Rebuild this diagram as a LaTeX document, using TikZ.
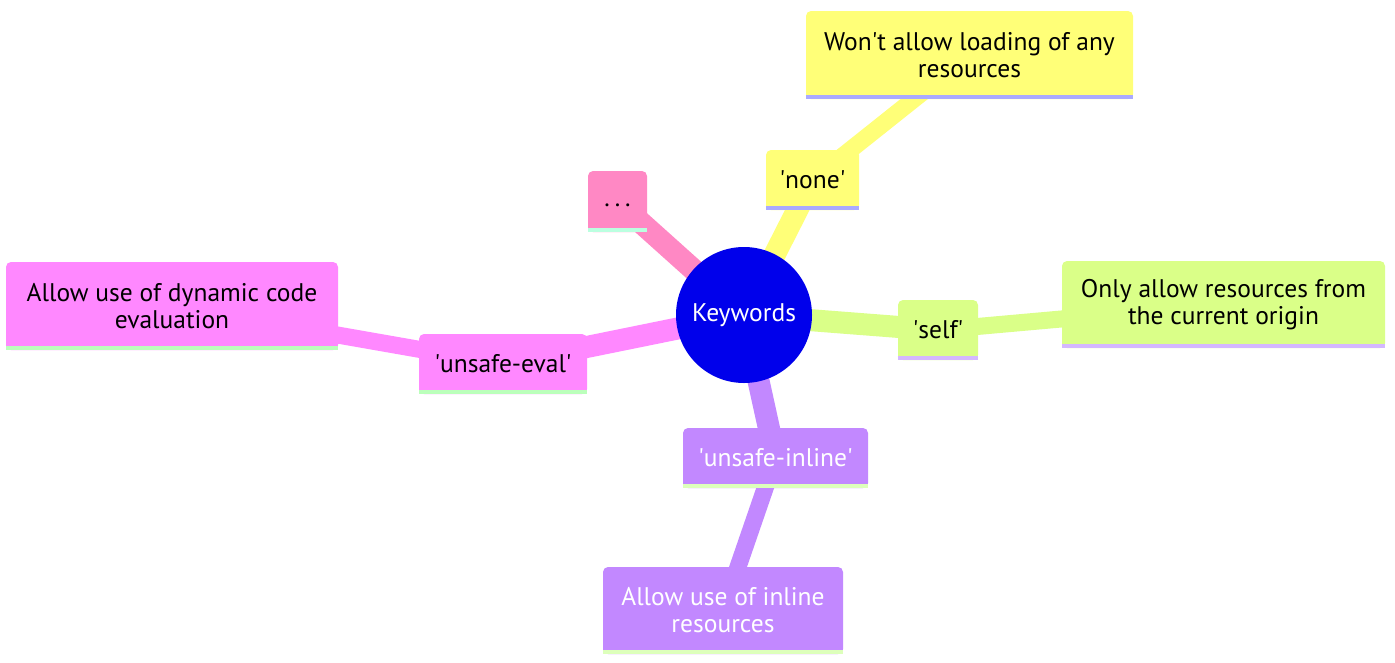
\documentclass[tikz,border=0pt]{standalone}
\usepackage{fontspec}
\setmainfont{PT Sans}
\usetikzlibrary{backgrounds}
\definecolor{cblue}{HTML}{0000EB}
\definecolor{cyellow}{HTML}{FFFF78}
\definecolor{cyline}{HTML}{AAAAFF}
\definecolor{cgreen}{HTML}{DAFF88}
\definecolor{cgline}{HTML}{D4B8FF}
\definecolor{cpink}{HTML}{FF88C4}
\definecolor{cpline}{HTML}{BBFFE0}
\definecolor{cmag}{HTML}{FF88FF}
\definecolor{cmline}{HTML}{BBFFBB}
\definecolor{cpurple}{HTML}{C288FF}
\definecolor{culine}{HTML}{DDFFBB}
\newcommand{\q}{\textquotesingle}
\tikzset{
  x=1pt, y=-1pt,
  tab/.style={rounded corners=5pt, inner sep=0pt, align=center, font=\fontsize{25.5}{27}\selectfont},
  rootnode/.style={circle, fill=cblue, minimum size=136pt, inner sep=0pt, text=white, font=\fontsize{25.5}{27}\selectfont},
  edgeA/.style={line width=22pt},
  edgeB/.style={line width=17pt},
}
% \tabbox{name}{cx}{cy}{w}{h}{fill}{line}{textcolor}{text}
\newcommand{\tabbox}[9]{%
  \node[tab, fill=#6, text=#8, minimum width=#4pt, minimum height=#5pt] (#1) at (#2,#3) {#9};
  \fill[#6] ([yshift=12pt]#1.south west) rectangle (#1.south east);
  \fill[#7] ([yshift=4pt]#1.south west) rectangle (#1.south east);
}
\begin{document}
\begin{tikzpicture}
\useasboundingbox (0,0) rectangle (1395,662);
\node[rootnode] (root) at (744,315) {Keywords};
\tabbox{none}{812.5}{180}{93}{60}{cyellow}{cyline}{black}{\q none\q}
\tabbox{wont}{969.5}{55}{327}{88}{cyellow}{cyline}{black}{Won\q t allow loading of any\\resources}
\tabbox{dots}{617.5}{201.5}{59}{61}{cpink}{cpline}{black}{\strut.\hspace{5pt}.\hspace{5pt}.}
\tabbox{self}{938}{330}{80}{60}{cgreen}{cgline}{black}{\q self\q}
\tabbox{only}{1223.5}{304.5}{323}{87}{cgreen}{cgline}{black}{Only allow resources from\\the current origin}
\tabbox{ueval}{503}{364}{168}{60}{cmag}{cmline}{black}{\q unsafe-eval\q}
\tabbox{dyn}{172}{306}{332}{88}{cmag}{cmline}{black}{Allow use of dynamic code\\evaluation}
\tabbox{uinline}{775.5}{458}{185}{60}{cpurple}{culine}{white}{\q unsafe-inline\q}
\tabbox{inl}{723}{610.5}{240}{87}{cpurple}{culine}{white}{Allow use of inline\\resources}
\begin{scope}[on background layer]
\fill[white] (0,0) rectangle (1395,662);
\draw[edgeA, cyellow] (root.center) -- (none.center);
\draw[edgeB, cyellow] (none.center) -- (wont.center);
\draw[edgeA, cpink] (root.center) -- (dots.center);
\draw[edgeA, cgreen] (root.center) -- (self.center);
\draw[edgeB, cgreen] (self.center) -- (only.center);
\draw[edgeA, cmag] (root.center) -- (ueval.center);
\draw[edgeB, cmag] (ueval.center) -- (dyn.center);
\draw[edgeA, cpurple] (root.center) -- (uinline.center);
\draw[edgeB, cpurple] (uinline.center) -- (inl.center);
\end{scope}
\end{tikzpicture}
\end{document}
